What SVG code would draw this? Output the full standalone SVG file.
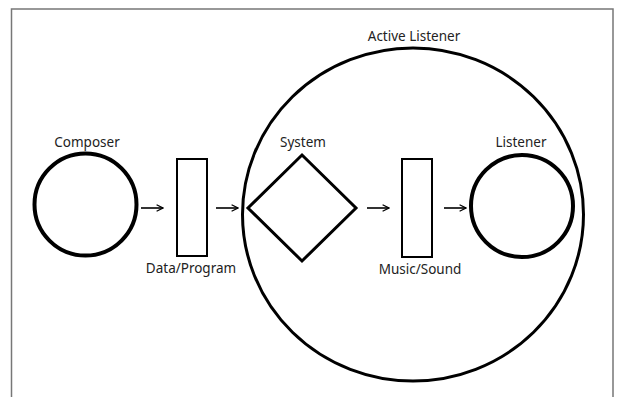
<svg xmlns="http://www.w3.org/2000/svg" width="617" height="397" viewBox="0 0 617 397">
  <style>
    .label { font-family: "Noto Sans", "DejaVu Sans", sans-serif; font-size: 13.5px; fill: #222; text-anchor: middle; }
    .thick { fill: none; stroke: #000; stroke-width: 4; }
    .mid { fill: none; stroke: #000; stroke-width: 3; }
    .box { fill: none; stroke: #000; stroke-width: 2; }
    .conn { fill: none; stroke: #000; stroke-width: 1.6; }
  </style>
  <defs>
    <marker id="arrow" viewBox="0 0 10 10" refX="9" refY="5" markerWidth="8" markerHeight="8" markerUnits="userSpaceOnUse" orient="auto">
      <path d="M1 1 L9 5 L1 9" fill="none" stroke="#000" stroke-width="1.6"/>
    </marker>
  </defs>
  <rect width="617" height="397" fill="#fff"/>
  <!-- frame, open at the bottom -->
  <path d="M11.5 397 V9 H613 V397" fill="none" stroke="#777" stroke-width="1.5"/>

  <g id="active-listener">
    <ellipse cx="413" cy="214.5" rx="170.5" ry="166.5" class="mid"/>
    <text class="label" x="414" y="41">Active Listener</text>
  </g>
  <g id="composer">
    <circle cx="85.5" cy="204.5" r="51" class="thick"/>
    <text class="label" x="87" y="147">Composer</text>
  </g>
  <g id="data-program">
    <rect x="177" y="159" width="30" height="97" class="box"/>
    <text class="label" x="191" y="273">Data/Program</text>
  </g>
  <g id="system">
    <polygon points="302,155 356,208 302,261 248,208" class="mid"/>
    <text class="label" x="303" y="147">System</text>
  </g>
  <g id="music-sound">
    <rect x="402" y="159" width="30" height="98" class="box"/>
    <text class="label" x="420" y="274">Music/Sound</text>
  </g>
  <g id="listener">
    <circle cx="522" cy="206" r="51" class="thick"/>
    <text class="label" x="521" y="147">Listener</text>
  </g>

  <g id="connectors">
    <line x1="141" y1="208" x2="163" y2="208" class="conn" marker-end="url(#arrow)"/>
    <line x1="216" y1="208" x2="238" y2="208" class="conn" marker-end="url(#arrow)"/>
    <line x1="367" y1="208" x2="389" y2="208" class="conn" marker-end="url(#arrow)"/>
    <line x1="444" y1="208" x2="466" y2="208" class="conn" marker-end="url(#arrow)"/>
  </g>
</svg>
